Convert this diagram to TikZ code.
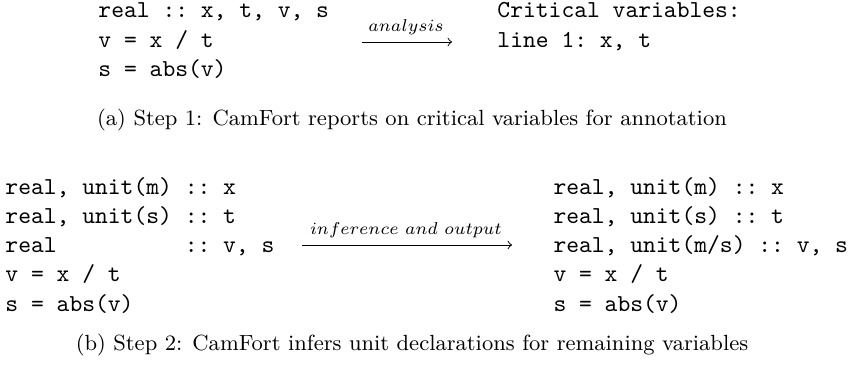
\documentclass[tikz,border=0pt]{standalone}
\usepackage{amsmath}
\begin{document}
\begin{tikzpicture}[x=0.41pt,y=-0.41pt,
  code/.style={inner sep=0pt, anchor=base west, font=\ttfamily\frenchspacing},
  captxt/.style={inner sep=0pt, anchor=base, font=\small},
  lab/.style={inner sep=0pt, anchor=base, font=\scriptsize},
  conn/.style={->, line width=0.4pt}]
\useasboundingbox (0,0) rectangle (848,366);
% Step 1
\node[code] (aL) at (98,18) {\begin{tabular}[t]{@{}l@{}}real :: x, t, v, s\\ v = x / t\\ s = abs(v)\end{tabular}};
\node[code] (aR) at (497,18) {\begin{tabular}[t]{@{}l@{}}Critical variables:\\ line 1: x, t\end{tabular}};
\coordinate (aS) at (362,42);
\coordinate (aE) at (452,42);
\draw[conn] (aS) -- (aE);
\node[lab] (aLab) at (406,32) {$analysis$};
\node[captxt] (capA) at (412,125) {(a) Step 1: CamFort reports on critical variables for annotation};
% Step 2
\node[code] (bL) at (5,194) {\begin{tabular}[t]{@{}l@{}}real, unit(m) :: x\\ real, unit(s) :: t\\ real~~~~~~~~~~:: v, s\\ v = x / t\\ s = abs(v)\end{tabular}};
\node[code] (bR) at (553,194) {\begin{tabular}[t]{@{}l@{}}real, unit(m) :: x\\ real, unit(s) :: t\\ real, unit(m/s) :: v, s\\ v = x / t\\ s = abs(v)\end{tabular}};
\coordinate (bS) at (302,245);
\coordinate (bE) at (512,245);
\draw[conn] (bS) -- (bE);
\node[lab] (bLab) at (406,234) {$inference\ and\ output$};
\node[captxt] (capB) at (412,350) {(b) Step 2: CamFort infers unit declarations for remaining variables};
\end{tikzpicture}
\end{document}
